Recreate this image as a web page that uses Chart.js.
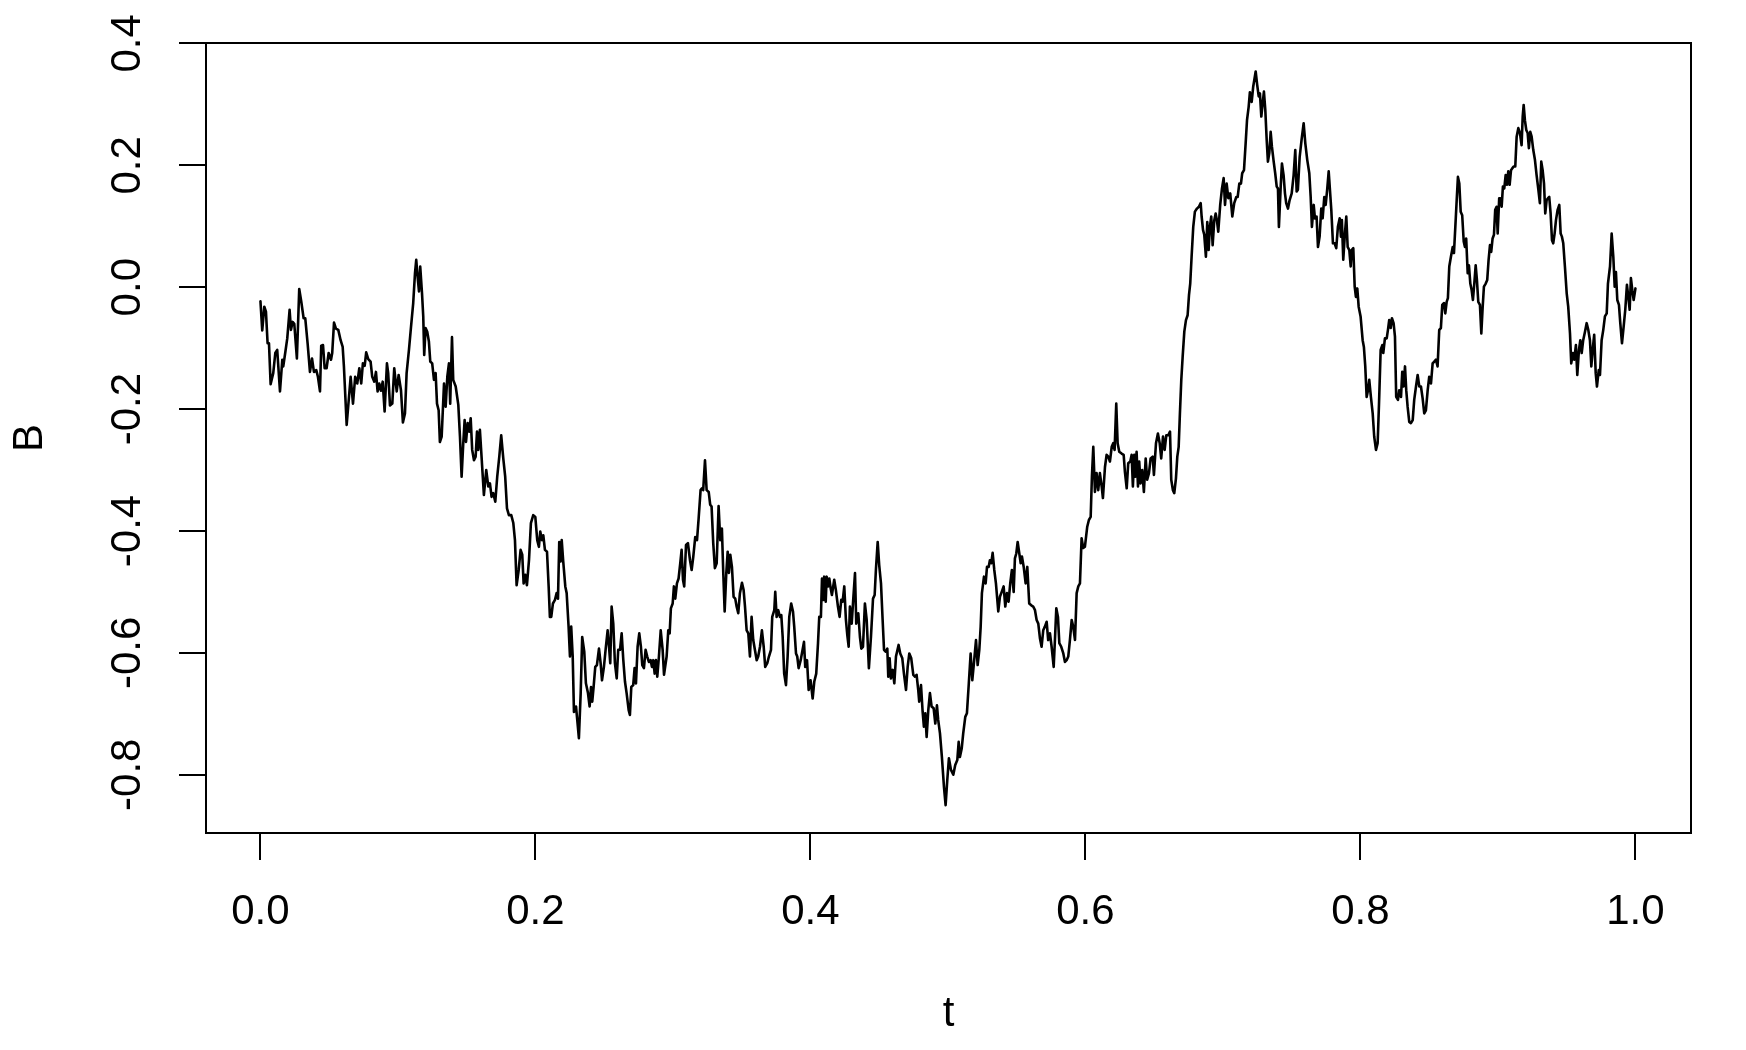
<!DOCTYPE html>
<html><head><meta charset="utf-8">
<script src="https://cdn.jsdelivr.net/npm/chart.js@4.4.1/dist/chart.umd.min.js"></script>
<style>html,body{margin:0;padding:0;background:#fff;} #wrap{width:1746px;height:1050px;position:relative;}</style>
</head><body>
<div id="wrap"><canvas id="c" width="1746" height="1050"></canvas></div>
<script>
const tValues = [
0.0000,0.0013,0.0028,0.0040,0.0052,0.0062,0.0074,0.0093,0.0108,0.0122,
0.0142,0.0159,0.0166,0.0180,0.0195,0.0212,0.0222,0.0234,0.0246,0.0265,
0.0282,0.0297,0.0314,0.0326,0.0343,0.0360,0.0375,0.0389,0.0406,0.0418,
0.0433,0.0442,0.0455,0.0467,0.0481,0.0496,0.0513,0.0522,0.0535,0.0549,
0.0566,0.0583,0.0598,0.0607,0.0627,0.0644,0.0656,0.0673,0.0689,0.0704,
0.0719,0.0733,0.0745,0.0758,0.0769,0.0784,0.0801,0.0813,0.0828,0.0840,
0.0852,0.0864,0.0876,0.0889,0.0903,0.0920,0.0929,0.0942,0.0959,0.0973,
0.0991,0.1005,
0.1022,0.1036,0.1051,0.1063,0.1080,0.1095,0.1111,0.1124,0.1133,0.1143,
0.1153,0.1162,0.1175,0.1184,0.1191,0.1201,0.1213,0.1225,0.1235,0.1249,
0.1262,0.1274,0.1284,0.1296,0.1305,0.1318,0.1335,0.1347,0.1359,0.1371,
0.1380,0.1393,0.1402,0.1420,0.1439,0.1451,0.1463,0.1475,0.1485,0.1495,
0.1507,0.1519,0.1529,0.1540,0.1553,0.1565,0.1575,0.1584,0.1596,0.1611,
0.1625,0.1642,0.1657,0.1669,0.1681,0.1693,0.1708,0.1722,0.1737,0.1751,
0.1766,0.1780,0.1793,0.1807,0.1824,0.1839,0.1851,0.1863,0.1878,0.1892,
0.1904,0.1914,0.1926,0.1938,0.1953,0.1967,0.1984,0.1999,0.2013,0.2025,
0.2035,0.2047,0.2057,0.2069,0.2084,0.2096,0.2105,0.2115,0.2127,0.2142,
0.2154,0.2164,0.2173,0.2183,0.2191,0.2202,0.2217,0.2227,0.2241,0.2251,
0.2260,0.2271,0.2280,0.2295,0.2304,0.2316,0.2329,0.2340,0.2355,0.2367,
0.2382,0.2394,0.2404,0.2413,0.2423,0.2435,0.2447,0.2462,0.2474,0.2484,
0.2498,0.2511,0.2525,0.2535,0.2544,0.2554,0.2566,0.2578,0.2591,0.2602,
0.2615,0.2627,0.2639,0.2651,0.2663,0.2678,0.2687,0.2697,0.2711,0.2721,
0.2731,0.2743,0.2755,0.2767,0.2777,0.2789,0.2801,0.2813,0.2825,0.2838,
0.2847,0.2857,0.2867,0.2876,0.2886,0.2898,0.2911,0.2925,0.2935,
0.2954,0.2966,0.2976,0.2985,0.2998,0.3007,0.3017,0.3029,0.3041,0.3053,
0.3063,0.3073,0.3082,0.3095,0.3109,0.3124,0.3136,0.3148,0.3162,0.3175,
0.3187,0.3201,0.3211,0.3220,0.3233,0.3245,0.3260,0.3271,0.3281,0.3293,
0.3305,0.3318,0.3332,0.3344,0.3356,0.3366,0.3376,0.3388,0.3398,0.3407,
0.3417,0.3429,0.3441,0.3453,0.3463,0.3475,0.3487,0.3502,0.3514,0.3524,
0.3536,0.3548,0.3560,0.3572,0.3584,0.3596,0.3609,0.3620,0.3633,0.3647,
0.3660,0.3671,0.3686,0.3698,0.3713,0.3722,0.3737,0.3744,0.3754,0.3766,
0.3778,0.3788,0.3798,0.3809,0.3822,0.3834,0.3846,0.3860,0.3873,0.3882,
0.3895,0.3904,0.3914,0.3929,
0.3953,0.3962,0.3975,0.3987,0.4001,0.4016,0.4028,0.4042,0.4055,0.4064,
0.4076,0.4084,0.4093,0.4100,0.4111,0.4118,0.4129,0.4137,0.4147,0.4156,
0.4173,0.4185,0.4200,0.4212,0.4224,0.4234,0.4246,0.4258,0.4268,0.4278,
0.4287,0.4300,0.4311,0.4324,0.4333,0.4348,0.4360,0.4370,0.4382,0.4396,
0.4409,0.4425,0.4440,0.4455,0.4467,0.4476,0.4489,0.4500,0.4513,0.4525,
0.4535,0.4547,0.4559,0.4566,0.4576,0.4585,0.4598,0.4610,0.4622,0.4641,
0.4653,0.4668,0.4680,0.4695,0.4707,0.4719,0.4733,0.4748,0.4760,0.4772,
0.4784,0.4791,0.4804,0.4816,0.4825,0.4835,0.4845,0.4857,0.4869,0.4881,
0.4896,0.4908,0.4920,0.4929,0.4942,0.4956,0.4971,0.4983,0.4995,0.5007,
0.5022,0.5039,0.5053,0.5068,0.5078,0.5087,0.5100,0.5111,0.5126,0.5138,
0.5150,0.5165,0.5177,0.5191,0.5204,0.5216,0.5228,0.5238,0.5247,0.5262,
0.5274,0.5284,0.5296,0.5305,0.5315,0.5325,0.5337,0.5349,0.5366,0.5378,
0.5391,0.5405,0.5417,0.5429,0.5441,0.5453,0.5465,0.5478,0.5487,0.5497,
0.5507,0.5519,0.5529,0.5538,0.5551,0.5565,0.5577,0.5591,0.5606,0.5620,
0.5633,0.5645,0.5657,0.5669,0.5681,0.5693,0.5705,0.5718,0.5729,0.5742,
0.5754,0.5769,0.5778,0.5788,0.5800,0.5810,0.5824,0.5839,0.5851,0.5863,
0.5875,0.5887,0.5900,0.5911,0.5924,0.5936,0.5948,0.5960,0.5972,0.5984,
0.5996,
0.6013,0.6025,0.6038,0.6047,0.6057,0.6069,0.6081,0.6093,0.6105,0.6118,
0.6127,0.6142,0.6154,0.6166,0.6178,0.6191,0.6202,0.6212,0.6224,0.6234,
0.6246,0.6263,0.6278,0.6287,0.6300,0.6311,0.6326,0.6336,0.6345,0.6355,
0.6362,0.6372,0.6382,0.6391,0.6401,0.6413,0.6425,0.6438,0.6449,0.6462,
0.6474,0.6489,0.6498,0.6513,0.6527,0.6540,0.6551,0.6564,0.6576,0.6588,
0.6602,0.6615,0.6624,0.6636,0.6646,0.6658,0.6668,0.6678,0.6687,0.6697,
0.6707,0.6719,0.6731,0.6743,0.6753,0.6762,0.6772,0.6784,0.6796,0.6811,
0.6825,0.6838,0.6845,0.6855,0.6864,0.6876,0.6886,0.6896,0.6905,0.6915,
0.6925,0.6937,0.6947,0.6956,0.6966,0.6980,0.6993,0.7005,
0.7015,0.7027,0.7039,0.7053,0.7068,0.7082,0.7097,0.7107,0.7119,0.7131,
0.7140,0.7153,0.7165,0.7175,0.7187,0.7196,0.7209,0.7220,0.7238,0.7249,
0.7260,0.7269,0.7279,0.7289,0.7298,0.7308,0.7318,0.7327,0.7337,0.7347,
0.7356,0.7369,0.7380,0.7391,0.7400,0.7407,0.7420,0.7429,0.7441,0.7451,
0.7460,0.7473,0.7485,0.7500,0.7514,0.7526,0.7536,0.7545,0.7558,0.7572,
0.7587,0.7599,0.7613,0.7628,0.7638,0.7647,0.7660,0.7669,0.7681,0.7691,
0.7703,0.7715,0.7725,0.7737,0.7747,0.7758,0.7769,0.7778,0.7788,0.7800,
0.7812,0.7824,0.7836,0.7849,0.7858,0.7865,0.7875,0.7887,0.7897,0.7907,
0.7919,0.7929,
0.7936,0.7948,0.7958,0.7967,0.7977,0.7987,0.8001,0.8016,0.8025,0.8035,
0.8045,0.8055,0.8064,0.8076,0.8089,0.8100,0.8113,0.8125,0.8135,0.8147,
0.8159,0.8166,0.8178,0.8191,0.8200,0.8209,0.8220,0.8229,0.8241,0.8251,
0.8260,0.8273,0.8282,0.8295,0.8304,0.8314,0.8324,0.8333,0.8343,0.8355,
0.8367,0.8380,0.8391,0.8404,0.8416,0.8428,0.8440,0.8452,0.8464,0.8476,
0.8489,0.8500,0.8513,0.8525,0.8537,0.8549,0.8561,0.8573,0.8585,0.8595,
0.8607,0.8617,0.8627,0.8636,0.8646,0.8658,0.8671,0.8680,0.8690,0.8700,
0.8709,0.8719,0.8729,0.8740,0.8751,0.8760,0.8769,0.8780,0.8789,0.8799,
0.8809,0.8818,0.8828,0.8838,0.8847,0.8857,0.8869,0.8879,0.8889,0.8898,
0.8911,0.8922,0.8932,0.8942,0.8951,0.8961,0.8971,0.8980,0.8990,0.8998,
0.9009,
0.9017,0.9027,0.9036,0.9046,0.9056,0.9065,0.9075,0.9085,0.9095,0.9104,
0.9114,0.9126,0.9136,0.9148,0.9160,0.9172,0.9180,0.9187,0.9196,0.9206,
0.9216,0.9225,0.9235,0.9245,0.9257,0.9269,0.9281,0.9293,0.9305,0.9315,
0.9325,0.9335,0.9344,0.9354,0.9364,0.9373,0.9383,0.9393,0.9402,0.9412,
0.9422,0.9434,0.9446,0.9456,0.9465,0.9475,0.9487,0.9500,0.9511,0.9524,
0.9533,0.9545,0.9555,0.9567,0.9577,0.9589,0.9599,0.9609,0.9620,0.9633,
0.9645,0.9657,0.9669,0.9679,0.9691,0.9700,0.9711,0.9720,0.9733,0.9742,
0.9754,0.9766,0.9778,0.9791,0.9800,0.9815,0.9827,0.9839,0.9849,0.9858,
0.9868,0.9880,0.9889,0.9902,0.9914,0.9926,0.9938,0.9948,0.9958,0.9967,
0.9977,0.9987,1.0000
];
const bValues = [
-0.023,-0.071,-0.032,-0.040,-0.092,-0.092,-0.159,-0.141,-0.108,-0.103,
-0.171,-0.119,-0.130,-0.108,-0.084,-0.037,-0.070,-0.057,-0.060,-0.117,
-0.003,-0.024,-0.051,-0.051,-0.092,-0.139,-0.117,-0.139,-0.136,-0.147,
-0.171,-0.096,-0.095,-0.133,-0.133,-0.108,-0.119,-0.108,-0.058,-0.068,
-0.070,-0.087,-0.098,-0.130,-0.226,-0.180,-0.147,-0.191,-0.147,-0.158,
-0.133,-0.158,-0.125,-0.129,-0.107,-0.118,-0.122,-0.147,-0.155,-0.139,
-0.171,-0.158,-0.170,-0.155,-0.204,-0.125,-0.141,-0.194,-0.191,-0.133,
-0.171,-0.144,
-0.169,-0.222,-0.207,-0.141,-0.103,-0.065,-0.026,0.023,0.045,0.017,
-0.007,0.034,-0.010,-0.048,-0.111,-0.067,-0.073,-0.089,-0.122,-0.125,
-0.152,-0.141,-0.191,-0.202,-0.254,-0.245,-0.158,-0.196,-0.147,-0.125,
-0.191,-0.082,-0.152,-0.163,-0.193,-0.245,-0.311,-0.256,-0.218,-0.254,
-0.223,-0.237,-0.215,-0.267,-0.284,-0.278,-0.237,-0.267,-0.234,-0.289,
-0.341,-0.300,-0.327,-0.322,-0.344,-0.338,-0.352,-0.311,-0.278,-0.243,
-0.281,-0.311,-0.363,-0.374,-0.374,-0.387,-0.415,-0.489,-0.464,-0.431,
-0.439,-0.486,-0.472,-0.489,-0.448,-0.387,-0.374,-0.377,-0.415,-0.426,
-0.401,-0.415,-0.407,-0.431,-0.434,-0.491,-0.541,-0.541,-0.519,-0.513,
-0.502,-0.511,-0.418,-0.450,-0.415,-0.450,-0.491,-0.502,-0.557,-0.606,
-0.557,-0.606,-0.697,-0.688,-0.710,-0.740,-0.666,-0.574,-0.598,-0.650,
-0.666,-0.688,-0.656,-0.680,-0.656,-0.623,-0.620,-0.593,-0.617,-0.645,
-0.623,-0.593,-0.563,-0.590,-0.617,-0.524,-0.552,-0.617,-0.642,-0.595,
-0.595,-0.568,-0.612,-0.647,-0.666,-0.694,-0.702,-0.656,-0.653,-0.625,
-0.650,-0.590,-0.568,-0.590,-0.620,-0.625,-0.595,-0.606,-0.615,-0.612,
-0.623,-0.612,-0.634,-0.612,-0.639,-0.606,-0.563,-0.595,-0.636,
-0.606,-0.563,-0.568,-0.527,-0.519,-0.491,-0.511,-0.486,-0.478,-0.453,
-0.431,-0.480,-0.491,-0.423,-0.420,-0.448,-0.464,-0.442,-0.410,-0.415,
-0.379,-0.333,-0.330,-0.333,-0.284,-0.333,-0.336,-0.357,-0.360,-0.420,
-0.461,-0.453,-0.359,-0.415,-0.396,-0.469,-0.532,-0.469,-0.434,-0.469,
-0.439,-0.459,-0.508,-0.511,-0.524,-0.535,-0.502,-0.485,-0.497,-0.524,
-0.563,-0.568,-0.606,-0.541,-0.579,-0.595,-0.612,-0.606,-0.590,-0.563,
-0.590,-0.623,-0.617,-0.606,-0.595,-0.541,-0.530,-0.500,-0.541,-0.530,
-0.541,-0.538,-0.574,-0.634,-0.653,-0.606,-0.541,-0.519,-0.532,-0.557,
-0.601,-0.606,-0.625,-0.612,
-0.582,-0.623,-0.612,-0.661,-0.645,-0.675,-0.647,-0.634,-0.584,-0.541,
-0.541,-0.478,-0.513,-0.475,-0.516,-0.475,-0.491,-0.478,-0.494,-0.505,
-0.480,-0.497,-0.524,-0.541,-0.513,-0.516,-0.491,-0.546,-0.571,-0.590,
-0.524,-0.552,-0.513,-0.469,-0.552,-0.535,-0.574,-0.593,-0.590,-0.519,
-0.546,-0.625,-0.574,-0.511,-0.505,-0.464,-0.418,-0.456,-0.486,-0.546,
-0.595,-0.598,-0.593,-0.639,-0.609,-0.642,-0.628,-0.650,-0.606,-0.587,
-0.601,-0.609,-0.634,-0.661,-0.623,-0.601,-0.609,-0.636,-0.639,-0.636,
-0.661,-0.680,-0.653,-0.697,-0.721,-0.699,-0.738,-0.694,-0.666,-0.688,
-0.691,-0.716,-0.686,-0.710,-0.732,-0.771,-0.820,-0.850,-0.809,-0.773,
-0.792,-0.800,-0.784,-0.776,-0.746,-0.771,-0.757,-0.732,-0.705,-0.699,
-0.656,-0.601,-0.645,-0.612,-0.579,-0.620,-0.595,-0.557,-0.502,-0.475,
-0.486,-0.459,-0.459,-0.448,-0.453,-0.436,-0.464,-0.486,-0.532,-0.508,
-0.500,-0.491,-0.524,-0.502,-0.516,-0.486,-0.464,-0.500,-0.445,-0.437,
-0.418,-0.437,-0.453,-0.442,-0.459,-0.486,-0.459,-0.519,-0.522,-0.524,
-0.530,-0.546,-0.552,-0.576,-0.590,-0.563,-0.557,-0.549,-0.579,-0.568,
-0.590,-0.623,-0.579,-0.527,-0.541,-0.584,-0.590,-0.601,-0.615,-0.612,
-0.606,-0.579,-0.546,-0.557,-0.579,-0.502,-0.491,-0.486,-0.412,-0.428,
-0.426,
-0.393,-0.382,-0.377,-0.311,-0.262,-0.336,-0.305,-0.333,-0.305,-0.327,
-0.346,-0.295,-0.275,-0.278,-0.286,-0.262,-0.256,-0.267,-0.191,-0.256,
-0.270,-0.273,-0.275,-0.303,-0.330,-0.289,-0.286,-0.275,-0.327,-0.275,
-0.311,-0.270,-0.327,-0.286,-0.322,-0.300,-0.336,-0.281,-0.316,-0.305,
-0.281,-0.278,-0.308,-0.256,-0.240,-0.256,-0.281,-0.245,-0.267,-0.243,
-0.243,-0.237,-0.316,-0.333,-0.338,-0.314,-0.278,-0.262,-0.207,-0.152,
-0.114,-0.073,-0.054,-0.046,-0.013,0.006,0.050,0.099,0.124,0.129,
0.132,0.138,0.116,0.094,0.086,0.050,0.107,0.061,0.099,0.116,
0.069,0.110,0.121,0.110,0.091,0.135,0.162,0.179,
0.135,0.170,0.146,0.154,0.116,0.138,0.148,0.148,0.170,0.170,
0.187,0.192,0.236,0.274,0.296,0.320,0.304,0.329,0.354,0.332,
0.313,0.318,0.280,0.302,0.321,0.291,0.242,0.206,0.220,0.255,
0.231,0.206,0.187,0.165,0.162,0.099,0.165,0.203,0.184,0.154,
0.138,0.129,0.143,0.154,0.184,0.225,0.157,0.160,0.214,0.242,
0.269,0.236,0.209,0.187,0.148,0.099,0.135,0.113,0.116,0.066,
0.083,0.129,0.113,0.148,0.135,0.160,0.190,0.160,0.127,0.072,
0.072,0.064,0.099,0.113,0.083,0.110,0.045,0.088,0.116,0.066,
0.061,0.034,
0.061,0.064,0.001,-0.016,-0.002,-0.032,-0.048,-0.087,-0.098,-0.130,
-0.180,-0.169,-0.152,-0.180,-0.207,-0.245,-0.267,-0.256,-0.191,-0.103,
-0.095,-0.108,-0.084,-0.084,-0.070,-0.054,-0.067,-0.051,-0.059,-0.081,
-0.180,-0.185,-0.169,-0.180,-0.139,-0.163,-0.130,-0.169,-0.196,-0.221,
-0.223,-0.218,-0.185,-0.163,-0.144,-0.163,-0.163,-0.182,-0.207,-0.202,
-0.169,-0.147,-0.158,-0.125,-0.122,-0.119,-0.130,-0.070,-0.067,-0.029,
-0.026,-0.043,-0.024,-0.018,0.034,0.050,0.066,0.056,0.099,0.143,
0.181,0.170,0.124,0.118,0.075,0.066,0.080,0.023,0.036,0.006,
-0.005,-0.021,0.006,0.036,0.012,-0.024,-0.029,-0.076,-0.032,0.001,
0.006,0.012,0.045,0.069,0.058,0.080,0.086,0.127,0.132,0.088,
0.146,
0.146,0.132,0.165,0.162,0.184,0.168,0.190,0.168,0.192,0.195,
0.198,0.198,0.247,0.261,0.253,0.233,0.280,0.299,0.274,0.258,
0.253,0.228,0.255,0.247,0.225,0.209,0.184,0.162,0.138,0.206,
0.192,0.170,0.121,0.143,0.146,0.148,0.121,0.077,0.072,0.088,
0.110,0.127,0.135,0.088,0.083,0.072,0.034,-0.010,-0.032,-0.076,
-0.125,-0.108,-0.119,-0.095,-0.144,-0.103,-0.087,-0.108,-0.087,-0.073,
-0.059,-0.070,-0.087,-0.130,-0.098,-0.078,-0.141,-0.163,-0.136,-0.144,
-0.087,-0.070,-0.048,-0.043,0.006,0.034,0.088,0.050,0.001,0.025,
-0.021,-0.029,-0.057,-0.092,-0.065,-0.037,0.004,-0.016,-0.037,0.015,
-0.005,-0.021,-0.002
];
const xTickValues = [0.0, 0.2, 0.4, 0.6, 0.8, 1.0];
const yTickValues = [-0.8, -0.6, -0.4, -0.2, 0.0, 0.2, 0.4];
const xTitle = 't';
const yTitle = 'B';

const n = Math.min(tValues.length, bValues.length);
const points = [];
for (let i = 0; i < n; i++) points.push({x: tValues[i], y: bValues[i]});

const FONT = "'Liberation Sans', Arial, Helvetica, sans-serif";
const boxPlugin = {
  id: 'box',
  afterDraw(chart) {
    const {ctx, chartArea: a} = chart;
    ctx.save();
    ctx.strokeStyle = '#000';
    ctx.lineWidth = 2;
    ctx.strokeRect(a.left, a.top, a.right - a.left, a.bottom - a.top);
    ctx.restore();
  }
};
const gridOpts = {display: true, drawOnChartArea: false, drawTicks: true, tickLength: 27, color: '#000', lineWidth: 2};

new Chart(document.getElementById('c'), {
  type: 'scatter',
  data: {datasets: [{data: points, showLine: true, borderColor: '#000', borderWidth: 2.6,
    pointRadius: 0, pointHoverRadius: 0, tension: 0, borderJoinStyle: 'round', borderCapStyle: 'round', fill: false}]},
  options: {
    responsive: false, animation: false, devicePixelRatio: 1, events: [],
    layout: {padding: {top: 43, right: 55, left: 0, bottom: 0}},
    plugins: {legend: {display: false}, tooltip: {enabled: false}},
    scales: {
      x: {
        type: 'linear', position: 'bottom', min: -0.0396, max: 1.0404,
        afterBuildTicks: s => { s.ticks = xTickValues.map(v => ({value: v})); },
        afterFit: s => { s.height = 217; },
        grid: gridOpts, border: {display: false},
        ticks: {autoSkip: false, maxRotation: 0, minRotation: 0, padding: 27, color: '#000',
          font: {family: FONT, size: 42}, callback: v => Number(v).toFixed(1)},
        title: {display: true, text: xTitle, color: '#000', font: {family: FONT, size: 42}, padding: {top: 0, bottom: 10}}
      },
      y: {
        type: 'linear', position: 'left', min: -0.8956, max: 0.4007,
        afterBuildTicks: s => { s.ticks = yTickValues.map(v => ({value: v})); },
        afterFit: s => { s.width = 206; },
        grid: gridOpts, border: {display: false},
        ticks: {autoSkip: false, minRotation: 90, maxRotation: 90, crossAlign: 'center', padding: 14, color: '#000',
          font: {family: FONT, size: 42}, callback: v => Number(v).toFixed(1)},
        title: {display: true, text: yTitle, color: '#000', font: {family: FONT, size: 42}, padding: {top: 5, bottom: 0}}
      }
    }
  },
  plugins: [boxPlugin]
});
</script>
</body></html>
